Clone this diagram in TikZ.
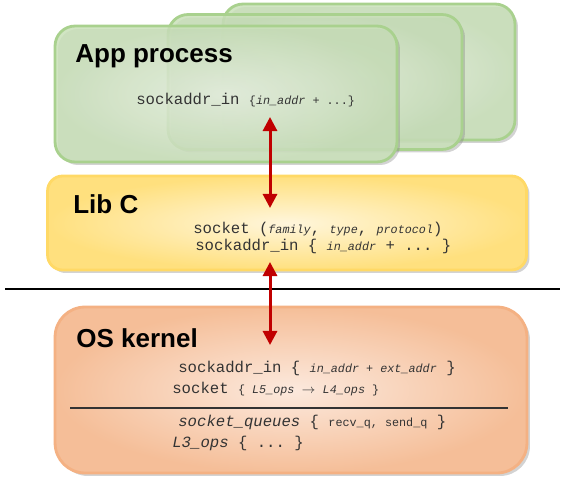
\documentclass[tikz,border=0pt]{standalone}
\usepackage{fontspec}
\setsansfont{Liberation Sans}
\setmonofont{Liberation Mono}
\usetikzlibrary{shapes,positioning,arrows.meta,shadows,calc}
\usepackage{xcolor}
\definecolor{appline}{HTML}{A9D18E}
\definecolor{appdark}{HTML}{C9E0B9}
\definecolor{applight}{HTML}{E8F2E1}
\definecolor{libline}{HTML}{FFD966}
\definecolor{libdark}{HTML}{FFE07E}
\definecolor{liblight}{HTML}{FFF6DC}
\definecolor{osline}{HTML}{F4B183}
\definecolor{osdark}{HTML}{F5BE98}
\definecolor{oslight}{HTML}{FCE9DD}
\definecolor{arrowred}{HTML}{C00000}

\newcommand{\sm}[1]{{\fontsize{6.7}{8}\selectfont #1}}
\newcommand{\smit}[1]{{\fontsize{6.7}{8}\selectfont\itshape #1}}

\begin{document}
\begin{tikzpicture}[x=0.02cm,y=-0.02cm]
      \tikzstyle{appbox}=[draw=appline, line width=1.6pt, rounded corners=0.4cm,
        inner color=applight, outer color=appdark, fill opacity=0.85,
        drop shadow={shadow xshift=0.06cm, shadow yshift=-0.06cm, opacity=0.35}];
      \tikzstyle{libbox}=[draw=libline, line width=1.6pt, rounded corners=0.3cm,
        inner color=liblight, outer color=libdark,
        drop shadow={shadow xshift=0.06cm, shadow yshift=-0.06cm, opacity=0.35}];
      \tikzstyle{osbox}=[draw=osline, line width=1.6pt, rounded corners=0.6cm,
        inner color=oslight, outer color=osdark,
        drop shadow={shadow xshift=0.06cm, shadow yshift=-0.06cm, opacity=0.35}];
      \tikzstyle{title}=[anchor=base west, inner sep=0pt,
        font=\sffamily\bfseries\fontsize{14.8}{17}\selectfont];
      \tikzstyle{code}=[anchor=base west, inner sep=0pt,
        font=\ttfamily\fontsize{8.9}{10}\selectfont, text=black!80];
      \tikzstyle{link}=[draw=arrowred, line width=1.7pt,
        {Triangle[width=8pt,length=8pt]}-{Triangle[width=8pt,length=8pt]}];

      \useasboundingbox (0,0) rectangle (563,486);

      % application processes
      \node (app3) at (369,72)[appbox, minimum width=5.84cm, minimum height=2.72cm]{};
      \node (app2) at (315,82)[appbox, minimum width=5.88cm, minimum height=2.7cm]{};
      \node (app1) at (226,94)[appbox, minimum width=6.84cm, minimum height=2.72cm]{};
      \node (apptitle) at (75,63)[title]{App process};
      \node (appaddr) at (136,105)[code]{sockaddr\_in \sm{\{\smit{in\_addr} + ...\}}};

      % libc
      \node (libc) at (287,223)[libbox, minimum width=9.58cm, minimum height=1.88cm]{};
      \node (libtitle) at (73,213)[title]{Lib C};
      \node (libsock) at (193,233)[code]{socket (\smit{family}, \smit{type}, \smit{protocol})};
      \node (libaddr) at (195,250)[code]{sockaddr\_in \{ \smit{in\_addr} + ... \}};

      % user / kernel border
      \coordinate (sepl) at (5,289);
      \coordinate (sepr) at (560,289);
      \draw [line width=0.8pt] (sepl) -- (sepr);

      % kernel
      \node (os) at (291,390)[osbox, minimum width=9.44cm, minimum height=3.32cm]{};
      \node (ostitle) at (76,347)[title]{OS kernel};
      \node (osaddr) at (178,372)[code]{sockaddr\_in \{ \smit{in\_addr + ext\_addr} \}};
      \node (ossock) at (172,393)[code]{socket \sm{\{ \smit{L5\_ops} $\rightarrow$ \smit{L4\_ops} \}}};
      \coordinate (osl) at (70,408);
      \coordinate (osr) at (508,408);
      \draw [line width=0.9pt, black!80] (osl) -- (osr);
      \node (osqueue) at (178,426)[code]{\textit{socket\_queues} \{ \sm{recv\_q, send\_q} \}};
      \node (osl3) at (172,447)[code]{\textit{L3\_ops} \{ ... \}};

      % calls between layers
      \coordinate (a1) at (270,117);
      \coordinate (a2) at (270,208);
      \coordinate (a3) at (270,262);
      \coordinate (a4) at (270,345);
      \draw [link] (a1) -- (a2);
      \draw [link] (a3) -- (a4);

    \end{tikzpicture}
\end{document}
